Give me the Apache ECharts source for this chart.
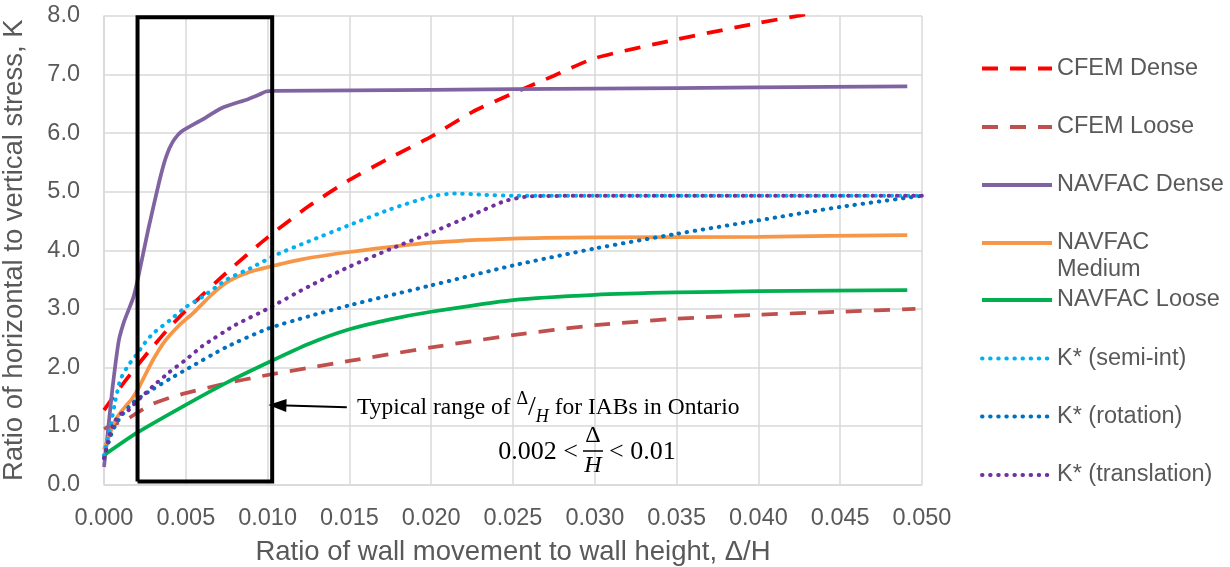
<!DOCTYPE html>
<html>
<head>
<meta charset="utf-8">
<script src="https://cdn.jsdelivr.net/npm/echarts@6/dist/echarts.min.js"></script>
<style>
  html, body { margin: 0; padding: 0; background: #fff; }
  #chart { width: 1230px; height: 567px; }
</style>
</head>
<body>
<div id="chart"></div>
<script>
// values
const cfemDenseX = [0, 0.001, 0.002, 0.003, 0.004, 0.005, 0.0075, 0.010, 0.0125, 0.015, 0.0175, 0.020, 0.0225, 0.025, 0.0275, 0.030, 0.035, 0.040, 0.045, 0.049];
const cfemDenseY = [1.27, 1.66, 2.02, 2.36, 2.68, 2.97, 3.62, 4.22, 4.75, 5.2, 5.58, 5.94, 6.36, 6.68, 6.98, 7.28, 7.6, 7.88, 8.13, 8.3];

const cfemLooseX = [0, 0.0005, 0.001, 0.0015, 0.002, 0.003, 0.004, 0.005, 0.0075, 0.010, 0.0125, 0.015, 0.020, 0.025, 0.030, 0.035, 0.040, 0.045, 0.0496];
const cfemLooseY = [0.95, 1.01, 1.07, 1.13, 1.22, 1.38, 1.48, 1.56, 1.73, 1.87, 1.99, 2.11, 2.34, 2.55, 2.72, 2.83, 2.9, 2.95, 3.0];

const navDenseX = [0, 0.0002, 0.0005, 0.0009, 0.0012, 0.0015, 0.0018, 0.0021, 0.0027, 0.0034, 0.0038, 0.0042, 0.0047, 0.006, 0.0072, 0.0088, 0.0095, 0.0099, 0.0104, 0.020, 0.030, 0.040, 0.0491];
const navDenseY = [0.3, 0.8, 1.6, 2.45, 2.76, 2.98, 3.2, 3.55, 4.35, 5.2, 5.6, 5.85, 6.02, 6.23, 6.43, 6.58, 6.66, 6.71, 6.72, 6.74, 6.76, 6.78, 6.8];

const navMediumX = [0, 0.0003, 0.0006, 0.0009, 0.0013, 0.0017, 0.0021, 0.0025, 0.003, 0.0037, 0.0046, 0.0055, 0.0065, 0.0075, 0.0088, 0.010, 0.012, 0.015, 0.020, 0.025, 0.030, 0.040, 0.0491];
const navMediumY = [0.6, 0.82, 1.05, 1.19, 1.33, 1.46, 1.64, 1.86, 2.13, 2.44, 2.72, 2.94, 3.22, 3.45, 3.62, 3.71, 3.84, 3.97, 4.13, 4.2, 4.22, 4.23, 4.26];

const navLooseX = [0, 0.002, 0.005, 0.0075, 0.010, 0.0125, 0.015, 0.0175, 0.020, 0.025, 0.030, 0.035, 0.040, 0.0491];
const navLooseY = [0.5, 0.88, 1.36, 1.74, 2.08, 2.4, 2.65, 2.82, 2.95, 3.15, 3.24, 3.28, 3.3, 3.32];

const semiIntX = [0, 0.0004, 0.0007, 0.001, 0.0015, 0.002, 0.0025, 0.003, 0.004, 0.005, 0.006, 0.0075, 0.009, 0.0105, 0.0125, 0.015, 0.0175, 0.020, 0.0215, 0.023, 0.025, 0.030, 0.040, 0.050];
const semiIntY = [0.5, 1.0, 1.44, 1.79, 2.04, 2.22, 2.42, 2.58, 2.8, 3.03, 3.2, 3.5, 3.7, 3.92, 4.15, 4.43, 4.7, 4.92, 4.97, 4.95, 4.93, 4.93, 4.93, 4.93];

const rotationX = [0, 0.0005, 0.001, 0.0015, 0.002, 0.003, 0.004, 0.005, 0.0075, 0.010, 0.0125, 0.015, 0.020, 0.025, 0.030, 0.035, 0.040, 0.045, 0.050];
const rotationY = [0.45, 0.9, 1.15, 1.32, 1.45, 1.63, 1.8, 1.96, 2.35, 2.66, 2.87, 3.06, 3.4, 3.74, 4.03, 4.28, 4.51, 4.74, 4.93];

const translationX = [0, 0.0003, 0.0006, 0.001, 0.0015, 0.002, 0.0025, 0.003, 0.004, 0.005, 0.006, 0.008, 0.010, 0.0125, 0.015, 0.0175, 0.020, 0.0225, 0.0245, 0.026, 0.030, 0.040, 0.050];
const translationY = [0.45, 0.8, 1.05, 1.2, 1.27, 1.42, 1.55, 1.68, 1.92, 2.13, 2.36, 2.72, 3.0, 3.38, 3.72, 4.02, 4.3, 4.6, 4.84, 4.92, 4.93, 4.93, 4.93];

// the "typical range" box and its arrow
const boxX = [0.00205, 0.00205, 0.01028, 0.01028, 0.00205];
const boxY = [0.05, 7.98, 7.98, 0.05, 0.05];
const arrowX = [0.0106, 0.01484];
const arrowY = [1.355, 1.32];

const names = ['CFEM Dense', 'CFEM Loose', 'NAVFAC Dense', 'NAVFAC Medium', 'NAVFAC Loose',
  'K* (semi-int)', 'K* (rotation)', 'K* (translation)'];

const pts = (xs, ys) => xs.map((x, i) => [x, ys[i]]);

const dashed = c => ({ color: c, width: 3.75, type: [16, 12] });
const solid = c => ({ color: c, width: 3.75 });
const dotted = c => ({ color: c, width: 4, type: [0.5, 7.6], cap: 'round' });

const lineSeries = (name, data, color, ls) => ({
  name: name,
  type: 'line',
  data: data,
  color: color,
  symbol: 'none',
  smooth: 0.2,
  lineStyle: ls(color),
  z: 3
});

const series = [
  lineSeries(names[0], pts(cfemDenseX, cfemDenseY), '#FF0000', dashed),
  lineSeries(names[1], pts(cfemLooseX, cfemLooseY), '#C0504D', dashed),
  lineSeries(names[2], pts(navDenseX, navDenseY), '#8064A2', solid),
  lineSeries(names[3], pts(navMediumX, navMediumY), '#F79646', solid),
  lineSeries(names[4], pts(navLooseX, navLooseY), '#00B050', solid),
  lineSeries(names[5], pts(semiIntX, semiIntY), '#00B0F0', dotted),
  lineSeries(names[6], pts(rotationX, rotationY), '#0070C0', dotted),
  lineSeries(names[7], pts(translationX, translationY), '#7030A0', dotted),
  {
    name: 'box',
    type: 'line',
    data: pts(boxX, boxY),
    symbol: 'none',
    clip: false,
    z: 5,
    lineStyle: { color: '#000', width: 4, join: 'miter' },
    markLine: {
      silent: true,
      symbol: ['triangle', 'none'],
      symbolSize: [13, 18],
      label: { show: false },
      lineStyle: { color: '#000', width: 2, type: 'solid' },
      data: [[{ coord: [arrowX[0], arrowY[0]] }, { coord: [arrowX[1], arrowY[1]] }]]
    }
  }
];

// legend rows (icon centre y); the medium entry wraps onto two lines
const legendRowY = [68.5, 127, 185, 243, 300, 358.5, 416.5, 475];
const legends = names.map((n, i) => {
  const medium = n === 'NAVFAC Medium';
  return {
    data: [n],
    orient: 'vertical',
    left: 980,
    top: legendRowY[i] - (medium ? 40.5 : 13.5),
    padding: 0,
    itemWidth: 70,
    itemHeight: 14,
    itemGap: 0,
    selectedMode: false,
    itemStyle: { opacity: 0 },
    lineStyle: { width: 4 },
    formatter: medium ? '\nNAVFAC\nMedium' : '{name}',
    textStyle: { fontSize: 23.5, color: '#595959', lineHeight: 27 }
  };
});

const serif = 'Liberation Serif, Times New Roman, serif';
const chart = echarts.init(document.getElementById('chart'));
chart.setOption({
  animation: false,
  backgroundColor: '#fff',
  textStyle: { fontFamily: 'Liberation Sans, Arial, sans-serif' },
  grid: { left: 104, top: 16, width: 818, height: 468.5, outerBoundsMode: 'none', containLabel: false },
  legend: legends,
  xAxis: {
    type: 'value',
    min: 0,
    max: 0.05,
    interval: 0.005,
    name: 'Ratio of wall movement to wall height, Δ/H',
    nameLocation: 'middle',
    nameGap: 54,
    nameTextStyle: { fontSize: 27.5, color: '#595959' },
    axisLine: { lineStyle: { color: '#D9D9D9', width: 1.5 } },
    axisTick: { show: false },
    axisLabel: { fontSize: 23.5, color: '#595959', margin: 22, formatter: v => v.toFixed(3) },
    splitLine: { lineStyle: { color: '#D9D9D9', width: 1.5 } }
  },
  yAxis: {
    type: 'value',
    min: 0,
    max: 8,
    interval: 1,
    name: 'Ratio of horizontal to vertical stress, K',
    nameLocation: 'middle',
    nameGap: 76,
    nameTextStyle: { fontSize: 27.5, color: '#595959' },
    axisLine: { show: true, lineStyle: { color: '#D9D9D9', width: 1.5 } },
    axisTick: { show: false },
    axisLabel: { fontSize: 23.5, color: '#595959', margin: 24, formatter: v => v.toFixed(1) },
    splitLine: { lineStyle: { color: '#D9D9D9', width: 1.5 } }
  },
  series: series,
  graphic: [
    {
      type: 'text',
      z: 10,
      style: {
        x: 357, y: 408,
        verticalAlign: 'middle',
        text: '{a|Typical range of }{sup|Δ}{sl|/}{sub|H}{a| for IABs in Ontario}',
        rich: {
          a: { fontSize: 23.5, fontFamily: serif, fill: '#000', lineHeight: 36 },
          sup: { fontSize: 18, fontFamily: serif, fill: '#000', lineHeight: 22, verticalAlign: 'top' },
          sl: { fontSize: 28, fontFamily: serif, fill: '#000', lineHeight: 36 },
          sub: { fontSize: 18, fontFamily: serif, fontStyle: 'italic', fill: '#000', lineHeight: 22, verticalAlign: 'bottom' }
        }
      }
    },
    { type: 'text', z: 10, style: { x: 578, y: 452, text: '0.002 <', align: 'right', verticalAlign: 'middle', font: '26px ' + serif, fill: '#000' } },
    { type: 'text', z: 10, style: { x: 593, y: 436, text: 'Δ', align: 'center', verticalAlign: 'middle', font: '24px ' + serif, fill: '#000' } },
    { type: 'line', z: 10, shape: { x1: 583, y1: 451, x2: 603, y2: 451 }, style: { stroke: '#000', lineWidth: 1.5 } },
    { type: 'text', z: 10, style: { x: 593, y: 466, text: 'H', align: 'center', verticalAlign: 'middle', font: 'italic 24px ' + serif, fill: '#000' } },
    { type: 'text', z: 10, style: { x: 609, y: 452, text: '< 0.01', align: 'left', verticalAlign: 'middle', font: '26px ' + serif, fill: '#000' } }
  ]
});
</script>
</body>
</html>
